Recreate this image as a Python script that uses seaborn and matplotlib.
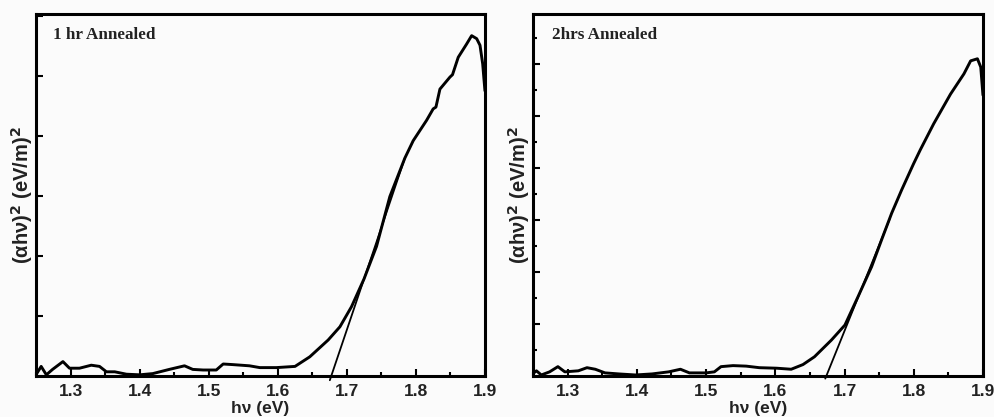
import numpy as np
import pandas as pd
import matplotlib
matplotlib.use("Agg")
import matplotlib.pyplot as plt
import seaborn as sns
from matplotlib.ticker import MultipleLocator

sns.set_theme(style="ticks")
plt.rcParams['font.family'] = ['Liberation Sans', 'DejaVu Sans']

# ---- data: 1 hr annealed ----
x1 = [1.250, 1.2575, 1.265, 1.274, 1.289, 1.2985, 1.313, 1.330, 1.342, 1.352, 1.364,
      1.381, 1.400, 1.419, 1.443, 1.465, 1.477, 1.492, 1.511, 1.521, 1.535, 1.559,
      1.574, 1.598, 1.625, 1.6464, 1.673, 1.690, 1.7068, 1.725, 1.743, 1.7623, 1.784,
      1.7961, 1.8155, 1.825, 1.829, 1.8348, 1.8493, 1.853, 1.8613, 1.8734, 1.8807,
      1.888, 1.8928, 1.8967, 1.8985, 1.900]
y1 = [0.02, 0.16, 0.02, 0.11, 0.24, 0.13, 0.13, 0.18, 0.16, 0.07, 0.07,
      0.03, 0.02, 0.04, 0.11, 0.17, 0.11, 0.10, 0.10, 0.20, 0.19, 0.17,
      0.14, 0.14, 0.16, 0.32, 0.60, 0.82, 1.155, 1.62, 2.16, 2.99, 3.63,
      3.92, 4.26, 4.45, 4.48, 4.78, 4.98, 5.02, 5.31, 5.53, 5.67,
      5.62, 5.51, 5.20, 4.95, 4.75]
fit1_x = [1.6754, 1.7840]
fit1_y = [-0.07, 3.63]

# ---- data: 2 hrs annealed ----
x2 = [1.2476, 1.255, 1.262, 1.274, 1.286, 1.296, 1.3155, 1.328, 1.340, 1.354, 1.374,
      1.398, 1.422, 1.446, 1.463, 1.476, 1.500, 1.512, 1.5216, 1.539, 1.558, 1.577,
      1.602, 1.623, 1.640, 1.6566, 1.681, 1.7006, 1.7197, 1.7391, 1.7536, 1.7681,
      1.7826, 1.7997, 1.8095, 1.8288, 1.8531, 1.8725, 1.8822, 1.892, 1.8968, 1.900]
y2 = [0.02, 0.10, 0.02, 0.08, 0.18, 0.08, 0.10, 0.16, 0.13, 0.06, 0.04,
      0.02, 0.04, 0.08, 0.13, 0.06, 0.06, 0.08, 0.18, 0.20, 0.19, 0.16,
      0.15, 0.13, 0.22, 0.37, 0.69, 0.98, 1.53, 2.10, 2.62, 3.13,
      3.58, 4.08, 4.35, 4.85, 5.42, 5.81, 6.06, 6.10, 5.94, 5.40]
fit2_x = [1.6722, 1.7650]
fit2_y = [-0.05, 3.01]

panels = [
    dict(x=x1, y=y1, fx=fit1_x, fy=fit1_y, label="1 hr Annealed",
         pos=[0.0362, 0.0983, 0.4517, 0.868], ytop=6.03, major=1.0, minor=None,
         tx=0.038),
    dict(x=x2, y=y2, fx=fit2_x, fy=fit2_y, label="2hrs Annealed",
         pos=[0.5362, 0.0983, 0.4527, 0.868], ytop=6.96, major=1.0, minor=0.5,
         tx=0.042),
]

bg = "#fbfbfb"
fig = plt.figure(figsize=(9.94, 4.17), dpi=100, facecolor=bg)

for p in panels:
    ax = fig.add_axes(p["pos"])
    ax.set_facecolor(bg)
    df = pd.DataFrame({"x": p["x"], "y": p["y"]})
    sns.lineplot(data=df, x="x", y="y", ax=ax, color="black", linewidth=2.1,
                 sort=False, estimator=None)
    dff = pd.DataFrame({"x": p["fx"], "y": p["fy"]})
    sns.lineplot(data=dff, x="x", y="y", ax=ax, color="black", linewidth=1.3,
                 sort=False, estimator=None)
    for ln in ax.lines[1:]:
        ln.set_clip_on(False)
    ax.set_xlim(1.25, 1.9)
    ax.set_ylim(0, p["ytop"])
    ax.xaxis.set_major_locator(MultipleLocator(0.1))
    ax.xaxis.set_minor_locator(MultipleLocator(0.05))
    ax.yaxis.set_major_locator(MultipleLocator(p["major"]))
    if p["minor"]:
        ax.yaxis.set_minor_locator(MultipleLocator(p["minor"]))
    ax.tick_params(axis="both", which="both", direction="in", color="black", width=1.5)
    ax.tick_params(axis="both", which="major", length=5)
    ax.tick_params(axis="both", which="minor", length=3)
    ax.tick_params(axis="x", labelsize=12.5, pad=6)
    ax.set_yticklabels([])
    for lab in ax.get_xticklabels():
        lab.set_fontweight("bold")
        lab.set_color("#222222")
    for s in ax.spines.values():
        s.set_linewidth(2.2)
        s.set_color("black")
    ax.set_xlabel("h\u03bd (eV)", fontsize=12.5, fontweight="bold", labelpad=1, color="#222222")
    ax.set_ylabel("(\u03b1h\u03bd)$^\\mathbf{2}$ (eV/m)$^\\mathbf{2}$", fontsize=14.5,
                  fontweight="bold", color="#222222")
    ax.yaxis.set_label_coords(-0.002, 0.5)
    ax.text(p["tx"], 0.942, p["label"], transform=ax.transAxes, fontsize=12.3,
            fontweight="bold", family=["Liberation Serif", "DejaVu Serif"],
            va="center", ha="left", color="#222222")

fig.savefig("out.png", dpi=100, facecolor=bg)
